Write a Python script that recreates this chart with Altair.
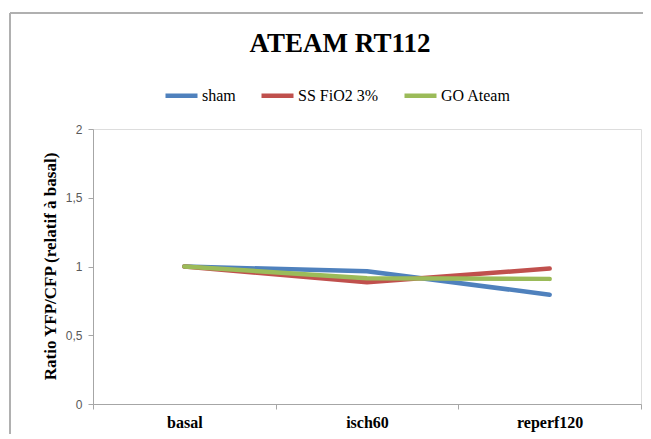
import altair as alt
import pandas as pd

categories = ["basal", "isch60", "reperf120"]
series_names = ["sham", "SS FiO2 3%", "GO Ateam"]
sham = [1.0, 0.965, 0.795]
ss_fio2 = [1.0, 0.885, 0.985]
go_ateam = [1.0, 0.915, 0.91]
colors = ["#4F81BD", "#C0504D", "#9BBB59"]
y_ticks = [0, 0.5, 1, 1.5, 2]

rows = []
for name, vals in zip(series_names, [sham, ss_fio2, go_ateam]):
    for i, (c, v) in enumerate(zip(categories, vals)):
        rows.append({"phase": c, "series": name, "value": v, "order": i})
df = pd.DataFrame(rows)

serif = "Liberation Serif"
sans = "Liberation Sans"

lines = alt.Chart(df).mark_line(strokeWidth=4.5, strokeCap="round", strokeJoin="round").encode(
    x=alt.X("phase:N", sort=categories,
            scale=alt.Scale(type="band", paddingInner=0, paddingOuter=0),
            axis=alt.Axis(title=None, labelAngle=0, tickBand="extent", labelFont=serif,
                          labelFontWeight="bold", labelFontSize=16, labelColor="#000000",
                          labelPadding=5, tickSize=5, domainColor="#A6A6A6",
                          tickColor="#A6A6A6", grid=False)),
    y=alt.Y("value:Q", scale=alt.Scale(domain=[0, 2], nice=False),
            axis=alt.Axis(title="Ratio YFP/CFP (relatif à basal)", values=y_ticks,
                          labelExpr="replace(format(datum.value, '~g'), '.', ',')",
                          labelFont=sans, labelFontSize=12, labelColor="#595959",
                          labelPadding=6, tickSize=5, domainColor="#A6A6A6",
                          tickColor="#A6A6A6", grid=False,
                          titleFont=serif, titleFontWeight="bold", titleFontSize=17,
                          titleColor="#000000", titleX=-43, titleY=137, titleAngle=-90,
                          titleAlign="center", titleBaseline="middle")),
    color=alt.Color("series:N", sort=series_names,
                    scale=alt.Scale(domain=series_names, range=colors),
                    legend=alt.Legend(title=None, orient="none", direction="horizontal",
                                      legendX=70, legendY=-52, symbolType="stroke",
                                      symbolSize=1024, symbolStrokeWidth=4.5,
                                      labelFont=serif, labelFontSize=16, labelColor="#000000",
                                      labelOffset=2, columnPadding=16)),
    order="order:Q",
    detail="series:N",
)

frame_left = alt.Chart(df).mark_rule(color="#B0B0B0", strokeWidth=2).encode(
    x=alt.value(-83), y=alt.value(-116), y2=alt.value(310))
frame_top = alt.Chart(df).mark_rule(color="#B0B0B0", strokeWidth=2).encode(
    x=alt.value(-83), x2=alt.value(550), y=alt.value(-116))

chart = alt.layer(frame_left, frame_top, lines).properties(
    width=548, height=275,
    autosize=alt.AutoSizeParams(type="none"),
    padding={"left": 85, "top": 121, "right": 2, "bottom": 30},
    title=alt.TitleParams("ATEAM RT112", font=serif, fontSize=27, fontWeight="bold",
                          color="#000000", anchor="middle", dx=-27, offset=-46),
).configure_view(stroke=None).configure(background="white")

chart.save("out.html", embed_options={"renderer": "svg", "actions": False})
